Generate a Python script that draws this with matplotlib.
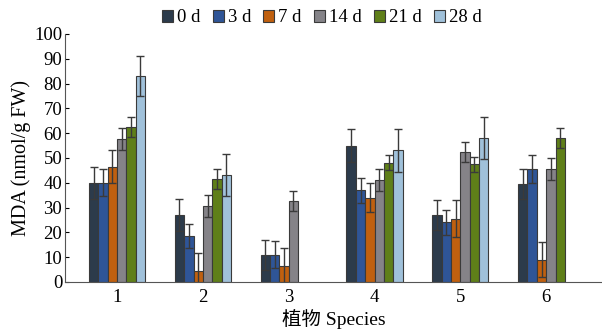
import numpy as np
import matplotlib.pyplot as plt

plt.rcParams['font.family'] = ['Liberation Serif', 'Noto Sans CJK SC']

species = ['1', '2', '3', '4', '5', '6']
days = ['0 d', '3 d', '7 d', '14 d', '21 d', '28 d']
nan = np.nan
# MDA mean per species, columns are days
mda = np.array([
    [40.0, 40.0, 46.5, 57.5, 62.5, 83.0],
    [27.0, 18.5, 4.5, 30.5, 41.5, 43.0],
    [11.0, 11.0, 6.5, 32.5, nan, nan],
    [55.0, 37.0, 34.0, 41.0, 48.0, 53.0],
    [27.0, 24.0, 25.5, 52.5, 47.5, 58.0],
    [39.5, 45.5, 9.0, 45.5, 58.0, nan],
])
err = np.array([
    [6.5, 5.5, 6.5, 4.5, 4.0, 8.0],
    [6.5, 5.0, 7.0, 4.5, 4.0, 8.5],
    [6.0, 5.5, 7.0, 4.0, nan, nan],
    [6.5, 5.0, 6.0, 4.5, 3.0, 8.5],
    [6.0, 5.0, 7.5, 4.0, 3.0, 8.5],
    [6.0, 5.5, 7.0, 4.5, 4.0, nan],
])
colors = ['#2c3b4b', '#2f5597', '#c0600f', '#858388', '#5f7f19', '#a0c1da']

fig = plt.figure(figsize=(6.02, 3.29), dpi=100)
ax = fig.add_axes([0.108, 0.143, 0.892, 0.754])

x = np.arange(1, len(species) + 1)
w = 0.109
for j in range(len(days)):
    pos = x + (j - 2.5) * w
    ax.bar(pos, mda[:, j], width=w, color=colors[j], edgecolor='#3a3a3a',
           linewidth=0.8, label=days[j], zorder=2)
    ax.errorbar(pos, mda[:, j], yerr=err[:, j], fmt='none', ecolor='#3a3a3a',
                elinewidth=1.0, capsize=3, capthick=1.0, zorder=3)

ax.set_xlim(0.394, 6.65)
ax.set_ylim(0, 100)
ax.set_yticks(range(0, 101, 10))
ax.set_xticks(x)
ax.set_xticklabels(species)
ax.tick_params(axis='y', direction='in', length=3, labelsize=13.5, pad=2)
ax.tick_params(axis='x', length=0, labelsize=13.5, pad=5)
ax.spines['top'].set_visible(False)
ax.spines['right'].set_visible(False)
ax.spines['left'].set_color('#555555')
ax.spines['bottom'].set_color('#555555')
ax.set_ylabel('MDA (nmol/g FW)', fontsize=14.5, labelpad=2)
ax.set_xlabel('植物 Species', fontsize=14)
ax.xaxis.set_label_coords(0.5, -0.108)

ax.legend(loc='lower center', bbox_to_anchor=(0.478, 1.0), ncol=6, frameon=False,
          fontsize=13.5, handlelength=0.6, handleheight=0.6, handletextpad=0.2,
          columnspacing=0.65, borderaxespad=0.0)

fig.savefig('out.png', dpi=100)
